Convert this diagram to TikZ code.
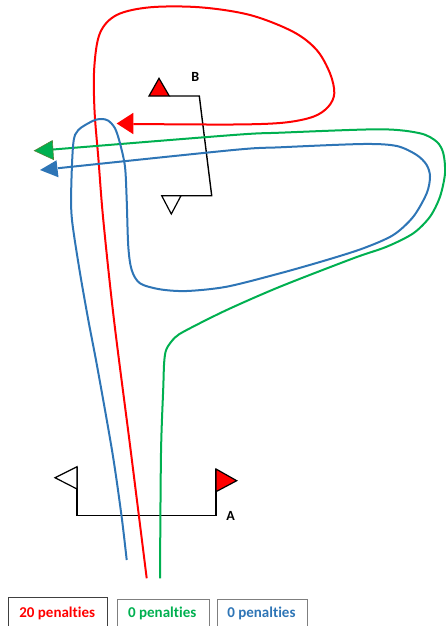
\documentclass[tikz,border=0pt]{standalone}
\usepackage{fontspec}
\setmainfont{Carlito}[Ligatures={NoCommon}]
\definecolor{cred}{RGB}{255,0,0}
\definecolor{cgreen}{RGB}{0,176,80}
\definecolor{cgreendark}{RGB}{84,130,53}
\definecolor{cblue}{RGB}{46,117,182}
\definecolor{boxdark}{RGB}{64,64,64}
\definecolor{boxgray}{RGB}{127,127,127}
\begin{document}
\begin{tikzpicture}[x=1pt,y=-1pt,
  gate/.style={draw=black,line width=1.4pt,line join=miter},
  flagw/.style={draw=black,fill=white,line width=1.2pt,line join=miter},
  flagr/.style={draw=black,fill=cred,line width=1.2pt,line join=miter},
  track/.style={line width=2pt,line cap=butt},
  lbl/.style={font=\bfseries\fontsize{14}{16}\selectfont,inner sep=0pt},
  pen/.style={font=\bfseries\fontsize{15}{18}\selectfont,inner sep=0pt,anchor=base},
  pbox/.style={draw,line width=1pt,inner sep=0pt,anchor=north west}
]
\useasboundingbox (0,0) rectangle (446,626);
\clip (0,0) rectangle (446,626);

% gate A
\coordinate (a1) at (77,466.7);
\coordinate (a2) at (77,515.7);
\coordinate (a3) at (216,515.7);
\coordinate (a4) at (216,469);
\draw[gate] (a1) -- (a2) -- (a3) -- (a4);
\draw[flagw] (77,466.7) -- (77,489) -- (55,477.7) -- cycle;
\draw[flagr] (216,469) -- (216,491.7) -- (236.7,480.7) -- cycle;
\node[lbl] (labA) at (230.7,516) {A};

% gate B
\coordinate (b1) at (169.3,96);
\coordinate (b2) at (199.3,96);
\coordinate (b3) at (211.7,195.7);
\coordinate (b4) at (181,195.7);
\draw[gate] (b1) -- (b2) -- (b3) -- (b4);
\draw[flagr] (149,96) -- (169.3,96) -- (159,78.3) -- cycle;
\draw[flagw] (161.7,195.7) -- (181,195.7) -- (171.3,214) -- cycle;
\node[lbl] (labB) at (195.3,77.3) {B};

% red track
\draw[track,cred] plot[smooth,tension=0.55] coordinates {
 (146.7,578.3) (130.5,449) (114,320) (103.3,220) (98.5,160) (94.5,110) (94.3,67)
 (100,33) (116.7,15) (150,7.3) (200,7.3) (250,15) (293,31.7) (316.7,50)
 (330,73.3) (334.3,93.3) (328.3,106.7) (313.3,116.7) (283.3,122.7)
 (233.3,124.5) (133.3,124)};
\fill[cred] (116.7,123.5) -- (133.3,112.8) -- (133.3,134.2) -- cycle;

% green track
\draw[track,cgreen] plot[smooth,tension=0.5] coordinates {
 (160,578.3) (161,453) (163.3,386.7) (164.2,362) (166.5,349) (175,337.5)
 (186.7,330) (226.7,310) (280,286.7) (353.3,258.3) (386.7,246.7)
 (413.3,233.3) (430,216.7) (440,196.7) (445,173.3) (443.3,153.3)
 (436.7,141.7) (420,133.3) (380,129.3) (280,132.7) (233.3,135) (53,149.5)};
\filldraw[fill=cgreen,draw=cgreendark,line width=0.6pt,line join=miter]
 (34.3,150.7) -- (52.4,140.5) -- (53.6,159.6) -- cycle;

% blue track
\draw[track,cblue] plot[smooth,tension=0.5] coordinates {
 (126.7,560) (121.5,515.7) (112.5,453.3) (97.5,368.3) (88.3,320)
 (79.5,270) (72,220) (71.2,190) (73.3,143.3) (78.3,130) (93.3,120.7)
 (101.7,119) (108.3,120.7) (115,128.3) (120,143.3) (125,166.7) (126.7,200)
 (128.3,246.7) (131.7,270) (140,283.3) (160,289.3) (186.7,291)
 (226.7,286.7) (280,273.3) (326.7,260) (363.3,248.3) (393.3,235)
 (413.3,216.7) (426.7,193.3) (430,176.7) (426.7,165) (416.7,155)
 (396.7,146) (363.3,144) (280,147.3) (233.3,150) (58,168.2)};
\fill[cblue] (40,170) -- (56.5,160.3) -- (58.5,177.3) -- cycle;

% penalty boxes
\node[pbox,draw=boxdark,minimum width=98.4pt,minimum height=50pt] (box1) at (8.3,597.3) {};
\node[pbox,draw=boxgray,minimum width=91.7pt,minimum height=50pt] (box2) at (117.3,599) {};
\node[pbox,draw=boxgray,minimum width=90.6pt,minimum height=50pt] (box3) at (216.7,599) {};
\node[pen,text=cred] (t1) at (57.2,617.3) {20 penalties};
\node[pen,text=cgreen] (t2) at (162.2,617.3) {0 penalties};
\node[pen,text=cblue] (t3) at (261.4,617.3) {0 penalties};
\end{tikzpicture}
\end{document}
